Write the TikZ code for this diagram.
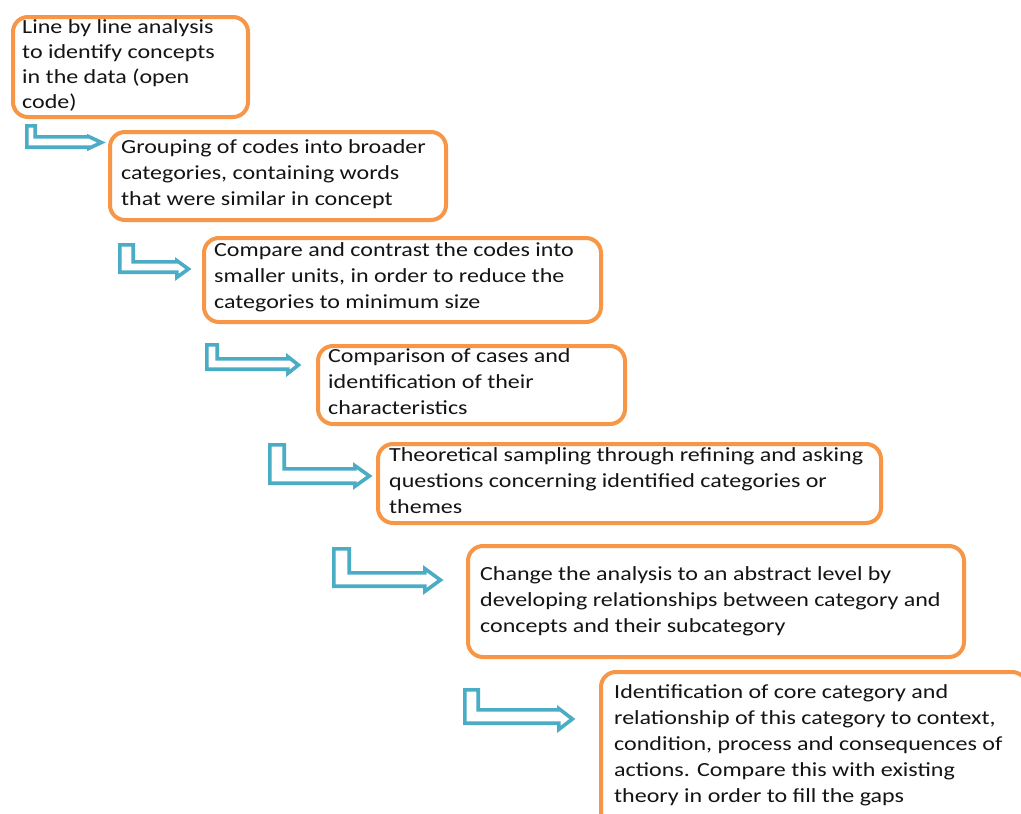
\documentclass[tikz,border=0pt]{standalone}
\usepackage{fontspec}
\setmainfont{Carlito}[FakeStretch=1.2]
\definecolor{boxorange}{HTML}{F79646}
\definecolor{arrowblue}{HTML}{4BACC6}
\definecolor{inktext}{HTML}{141414}

% hollow bent arrow: left, top, stem width, bar top, bar bottom, tip x, head top, head bottom, head base x
\newcommand\bentarrow[9]{%
  \draw[arrowline]
    ({#1+1.8},{#2+1.8}) -- ({#1+#3-1.8},{#2+1.8}) -- ({#1+#3-1.8},{#4+1.8})
    -- ({#9+1.8},{#4+1.8}) -- ({#9+1.8},{#7+3.6}) -- ({#6-3.6},{(#7+#8)/2})
    -- ({#9+1.8},{#8-3.6}) -- ({#9+1.8},{#5-1.8}) -- ({#1+1.8},{#5-1.8}) -- cycle;}

\begin{document}
\begin{tikzpicture}[x=1pt,y=-1pt,
  stepbox/.style={draw=boxorange, line width=4pt, rounded corners=15pt,
    fill=none, inner sep=0pt, anchor=north west},
  arrowline/.style={draw=arrowblue, line width=3.6pt, fill=white, line join=miter},
  steptext/.style={anchor=base west, inner sep=0pt, text=inktext,
    font=\fontsize{20}{26}\selectfont},
]
\useasboundingbox[fill=white] (0,0) rectangle (1021,814);

% rounded frames
\node[stepbox, minimum width=235pt, minimum height=100pt] (b1) at (11,15) {};
\node[stepbox, minimum width=336pt, minimum height=88pt] (b2) at (108,130) {};
\node[stepbox, minimum width=397pt, minimum height=84pt] (b3) at (202,236) {};
\node[stepbox, minimum width=307pt, minimum height=78pt] (b4) at (316,344) {};
\node[stepbox, minimum width=503pt, minimum height=79pt] (b5) at (376,442) {};
\node[stepbox, minimum width=496pt, minimum height=111pt] (b6) at (466,544) {};
\node[stepbox, minimum width=426pt, minimum height=170pt] (b7) at (599,670) {};

% step texts
\node[steptext] (t1) at (22,33) {\parbox[t]{300pt}{\fontsize{20}{25.3}\selectfont\raggedright
  Line by line analysis\\to identify concepts\\in the data (open\\code)}};
\node[steptext] (t2) at (121,153) {\parbox[t]{400pt}{\raggedright
  Grouping of codes into broader\\categories, containing words\\that were similar in concept}};
\node[steptext] (t3) at (214,256) {\parbox[t]{400pt}{\raggedright
  Compare and contrast the codes into\\smaller units, in order to reduce the\\categories to minimum size}};
\node[steptext] (t4) at (328,362) {\parbox[t]{400pt}{\raggedright
  Comparison of cases and\\identification of their\\characteristics}};
\node[steptext] (t5) at (389,461) {\parbox[t]{500pt}{\raggedright
  Theoretical sampling through refining and asking\\questions concerning identified categories or\\themes}};
\node[steptext] (t6) at (480,580) {\parbox[t]{500pt}{\raggedright
  Change the analysis to an abstract level by\\developing relationships between category and\\concepts and their subcategory}};
\node[steptext] (t7) at (614,698) {\parbox[t]{420pt}{\raggedright
  Identification of core category and\\relationship of this category to context,\\condition, process and consequences of\\actions. Compare this with existing\\theory in order to fill the gaps}};

% bent arrows leading from one step to the next
\bentarrow{25}{124}{12}{135}{149}{105}{133}{152}{87}
\bentarrow{118}{243}{17}{260}{274}{192}{257}{281}{175}
\bentarrow{205}{343}{14}{357}{371}{302}{353}{377}{286}
\bentarrow{268}{443}{18}{467}{485}{373}{462}{490}{353}
\bentarrow{332}{547}{19}{571}{588}{444}{565}{595}{423}
\bentarrow{463}{688}{17}{708}{725}{576}{705}{733}{557}
\end{tikzpicture}
\end{document}
